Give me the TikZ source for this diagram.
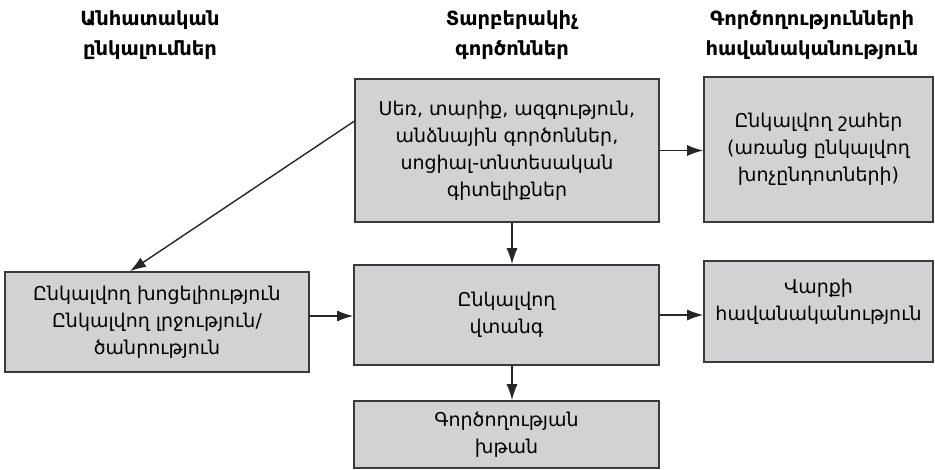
\documentclass[tikz,border=0pt]{standalone}
\usepackage{fontspec}
\setmainfont{DejaVu Sans}
\usetikzlibrary{arrows.meta}
\definecolor{boxfill}{HTML}{D1D2D4}
\definecolor{boxline}{HTML}{3A3A3A}
\begin{document}
\begin{tikzpicture}[x=1pt,y=-1pt,
  box/.style={draw=boxline, line width=1.6pt, fill=boxfill, inner sep=0pt, align=center, font=\fontsize{19}{27}\selectfont},
  head/.style={align=center, font=\bfseries\fontsize{19.5}{30}\selectfont},
  arr/.style={-{Latex[length=16pt,width=11pt]}, line width=1.4pt, draw=black!85}]
\useasboundingbox (0,0) rectangle (935,470);
\node[head] (h1) at (150,35) {Անհատական\\ընկալումներ};
\node[head] (h2) at (512,35) {Տարբերակիչ\\գործոններ};
\node[head] (h3) at (812,35) {Գործողությունների\\հավանականություն};
\node[box, minimum width=304pt, minimum height=143pt] (tc) at (507,150.5) {Սեռ, տարիք, ազգություն,\\անձնային գործոններ,\\սոցիալ-տնտեսական\\գիտելիքներ};
\node[box, minimum width=229pt, minimum height=145pt] (tr) at (818.5,149.5) {Ընկալվող շահեր\\(առանց ընկալվող\\խոչընդոտների)};
\node[box, minimum width=304pt, minimum height=100pt] (lb) at (157,322) {Ընկալվող խոցելիություն\\Ընկալվող լրջություն/\\ծանրություն};
\node[box, minimum width=305pt, minimum height=100pt] (mid) at (506.5,315) {Ընկալվող\\վտանգ};
\node[box, minimum width=229pt, minimum height=101pt] (rm) at (818.5,311.5) {Վարքի\\հավանականություն\\[-4pt]\mbox{}};
\node[box, minimum width=305pt, minimum height=67pt] (bot) at (506.5,434.5) {Գործողության\\խթան};
\coordinate (vx) at (512,0);
\draw[arr] ([yshift=-43pt]tc.north west) -- ([xshift=-27pt]lb.north);
\draw[arr] (tc.east) -- (tc.east -| tr.west);
\draw[arr] (tc.south -| vx) -- (mid.north -| vx);
\draw[arr] ([yshift=6pt]lb.east) -- ([yshift=6pt]lb.east -| mid.west);
\draw[arr] (mid.east) -- (mid.east -| rm.west);
\draw[arr] (mid.south -| vx) -- (bot.north -| vx);
\end{tikzpicture}
\end{document}
